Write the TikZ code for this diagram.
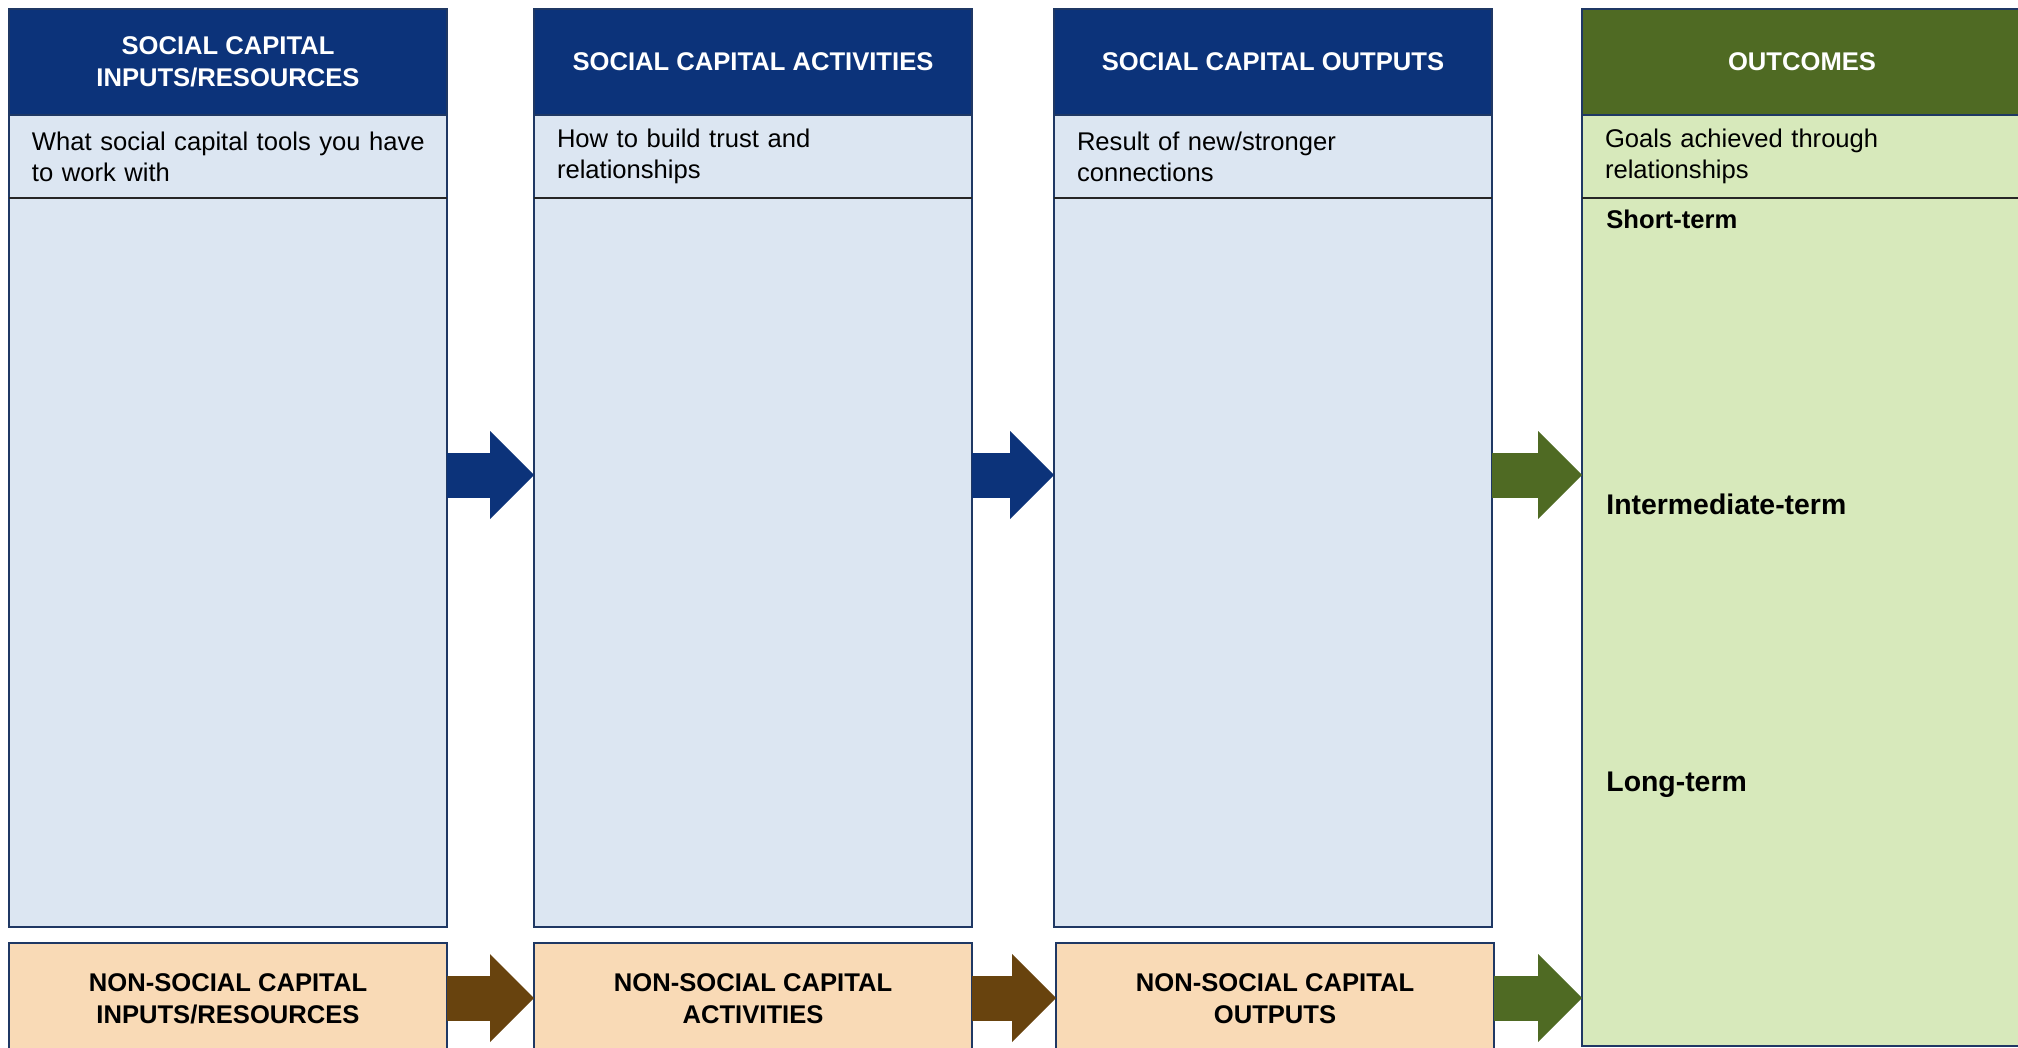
\documentclass[tikz,border=0pt]{standalone}
\usepackage{fontspec}
\setmainfont{Liberation Sans}
\usetikzlibrary{positioning,arrows.meta}
\definecolor{capNavy}{RGB}{12,51,122}
\definecolor{capBorder}{RGB}{31,56,100}
\definecolor{capBlue}{RGB}{220,230,242}
\definecolor{capGreen}{RGB}{79,106,35}
\definecolor{capLeaf}{RGB}{215,233,187}
\definecolor{capTan}{RGB}{249,218,182}
\definecolor{capBrown}{RGB}{104,67,14}
\begin{document}
\begin{tikzpicture}
[x=0.5pt,y=-0.5pt,
  boxDecorate/.style={draw=capBorder,line width=1pt,outer sep=0pt,inner sep=0pt},%
  headDecorate/.style={boxDecorate,fill=capNavy,text=white,align=center,
    font=\bfseries\fontsize{12.8pt}{16pt}\selectfont,
    minimum width=219pt,minimum height=53pt,anchor=north west},%
  subDecorate/.style={boxDecorate,fill=capBlue,align=left,text width=196pt,
    inner xsep=11.5pt,minimum height=41.5pt,
    font=\fontsize{12.8pt}{15.5pt}\selectfont},%
  bodyDecorate/.style={boxDecorate,fill=capBlue,minimum width=219pt,minimum height=364.5pt},%
  lowDecorate/.style={boxDecorate,fill=capTan,align=center,
    font=\bfseries\fontsize{12.8pt}{16pt}\selectfont,
    minimum width=219pt,minimum height=56pt,anchor=north west},%
  termDecorate/.style={anchor=west,inner sep=0pt,font=\bfseries\fontsize{14.2pt}{17pt}\selectfont},%
  sepDecorate/.style={draw=black!85,line width=0.8pt},%
  arrowDecorate/.style={line width=22.5pt,
    -{Triangle[length=22pt,width=44pt,line width=0pt]}}]
\useasboundingbox (0,0) rectangle (2018,1048);
%% rows for the arrows
\coordinate (uprow) at (0,475);
\coordinate (lowrow) at (0,998);
%% social capital columns
\foreach \colname/\xpos/\hdr/\sub in {
  inp/9/{SOCIAL CAPITAL\\INPUTS/RESOURCES}/{\mbox{What social capital tools you have}\\to work with},
  act/534/{SOCIAL CAPITAL ACTIVITIES}/{How to build trust and\\relationships},
  out/1054/{SOCIAL CAPITAL OUTPUTS}/{Result of new/stronger\\connections}}
{
  \node (\colname hd) at (\xpos,9) [headDecorate] {\hdr};
  \node (\colname sub) [subDecorate,below=0pt of \colname hd] {\sub};
  \node (\colname body) [bodyDecorate,below=0pt of \colname sub] {};
  \draw[sepDecorate] (\colname sub.south west) -- (\colname sub.south east);
}
%% outcomes column
\node (goalhd) at (1582,9) [headDecorate,fill=capGreen,minimum width=220pt] {OUTCOMES};
\node (goalsub) [subDecorate,fill=capLeaf,text width=197pt,below=0pt of goalhd]
  {Goals achieved through\\relationships};
\node (goalbody) [bodyDecorate,fill=capLeaf,minimum width=220pt,minimum height=424pt,
  below=0pt of goalsub] {};
\draw[sepDecorate] (goalsub.south west) -- (goalsub.south east);
\node (short) at (1606,219) [termDecorate,font=\bfseries\fontsize{12.8pt}{15.5pt}\selectfont] {Short-term};
\node (inter) at (1606,504) [termDecorate] {Intermediate-term};
\node (long) at (1606,785) [termDecorate] {Long-term};
%% non-social capital row
\foreach \colname/\xpos/\txt in {
  inp/9/{NON-SOCIAL CAPITAL\\INPUTS/RESOURCES},
  act/534/{NON-SOCIAL CAPITAL\\ACTIVITIES},
  out/1056/{NON-SOCIAL CAPITAL\\OUTPUTS}}
{
  \node (\colname low) at (\xpos,943) [lowDecorate] {\txt};
}
%% arrows
\foreach \startnode/\endnode/\colour in {
  inpbody/actbody/capNavy, actbody/outbody/capNavy, outbody/goalbody/capGreen}
{
  \draw[arrowDecorate,color=\colour] (\startnode.east |- uprow) -- (\endnode.west |- uprow);
}
\foreach \startnode/\endnode/\colour in {
  inplow/actlow/capBrown, actlow/outlow/capBrown, outlow/goalbody/capGreen}
{
  \draw[arrowDecorate,color=\colour] (\startnode.east |- lowrow) -- (\endnode.west |- lowrow);
}
\end{tikzpicture}
\end{document}
